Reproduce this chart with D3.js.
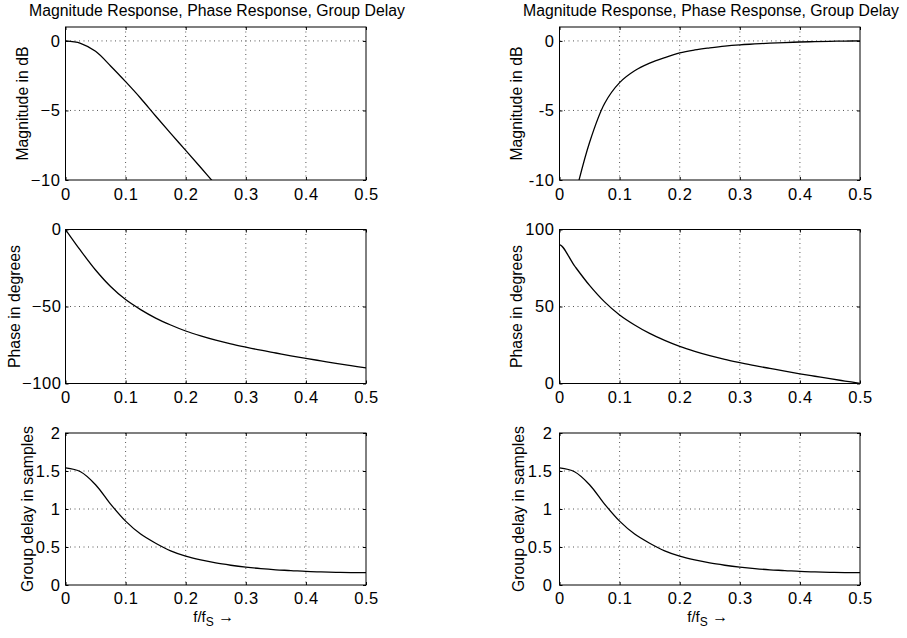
<!DOCTYPE html>
<html>
<head>
<meta charset="utf-8">
<script src="https://cdn.jsdelivr.net/npm/d3@7"></script>
<style>
  html, body { margin: 0; padding: 0; background: #fff; }
  svg { display: block; font-family: "Liberation Sans", Arial, Helvetica, sans-serif; }
</style>
</head>
<body>
<svg id="fig" width="907" height="638"></svg>
<script>
// Normalised frequency grid f/fS
const freq = [0, 0.025, 0.05, 0.075, 0.1, 0.125, 0.15, 0.175, 0.2, 0.225, 0.25,
              0.275, 0.3, 0.325, 0.35, 0.375, 0.4, 0.425, 0.45, 0.475, 0.5];

// Lowpass (left column)
const magLP   = [0, -0.17, -0.75, -1.8, -2.93, -4.12, -5.4, -6.65, -7.87, -9.1, -10.35,
                 null, null, null, null, null, null, null, null, null, null];
const phaseLP = [0, -13.6, -26.3, -37, -45.5, -52, -57.5, -62, -65.9, -69.1, -71.9,
                 -74.3, -76.4, -78.4, -80.2, -82, -83.7, -85.3, -86.9, -88.4, -89.9];
const gdLP    = [1.54, 1.49, 1.32, 1.065, 0.84, 0.67, 0.55, 0.45, 0.38, 0.33, 0.29,
                 0.26, 0.235, 0.215, 0.2, 0.19, 0.178, 0.172, 0.167, 0.164, 0.163];

// Highpass (right column)
const magHP   = [null, -11.3, -7.3, -4.5, -3.0, -2.15, -1.6, -1.2, -0.86, -0.65, -0.5,
                 -0.37, -0.28, -0.22, -0.16, -0.12, -0.08, -0.05, -0.03, -0.01, 0];
const phaseHPdc = 0;   // phase value exactly at f = 0
const phaseHP = [90, 76.4, 63.7, 53, 44.5, 38, 32.5, 28, 24.1, 20.9, 18.1,
                 15.7, 13.6, 11.6, 9.8, 8, 6.3, 4.7, 3.1, 1.6, 0.1];
const gdHP    = [1.54, 1.49, 1.32, 1.065, 0.84, 0.67, 0.55, 0.45, 0.38, 0.33, 0.29,
                 0.26, 0.235, 0.215, 0.2, 0.19, 0.178, 0.172, 0.167, 0.164, 0.163];

// Tick labels
const xTicks     = [0, 0.1, 0.2, 0.3, 0.4, 0.5];
const magTicks   = [-10, -5, 0];
const phLPTicks  = [-100, -50, 0];
const phHPTicks  = [0, 50, 100];
const gdTicks    = [0, 0.5, 1, 1.5, 2];

const titleText = "Magnitude Response, Phase Response, Group Delay";
const yLabels = ["Magnitude in dB", "Phase in degrees", "Group delay in samples"];

// Layout
const cols = [{ x0: 65.5, x1: 366, titleX: 217, minus: "\u2212" },
              { x0: 559.5, x1: 860, titleX: 711, minus: "-" }];
const rows = [{ y0: 27, y1: 180, xpad: 8 }, { y0: 229.5, y1: 383.5, xpad: 8 }, { y0: 433, y1: 585, xpad: 7 }];
const FONT = 15.8;
const TICKFONT = 16.5;

const svg = d3.select("#fig");
const defs = svg.append("defs");

const zip = (xs, ys) => xs.map((x, i) => [x, ys[i]]);

const panels = [
  { c: 0, r: 0, dom: [-10, 1],   ticks: magTicks,  data: zip(freq, magLP),   labOff: 38, pad: 5 },
  { c: 0, r: 1, dom: [-100, 0],  ticks: phLPTicks, data: zip(freq, phaseLP), labOff: 46, pad: 4 },
  { c: 0, r: 2, dom: [0, 2],     ticks: gdTicks,   data: zip(freq, gdLP),    labOff: 33, pad: 5 },
  { c: 1, r: 0, dom: [-10, 1],   ticks: magTicks,  data: zip(freq, magHP),   labOff: 38, pad: 5 },
  { c: 1, r: 1, dom: [0, 100],   ticks: phHPTicks, data: [[0, phaseHPdc]].concat(zip(freq, phaseHP)), labOff: 38, pad: 5 },
  { c: 1, r: 2, dom: [0, 2],     ticks: gdTicks,   data: zip(freq, gdHP),    labOff: 36, pad: 7 }
];

panels.forEach((p, i) => {
  const col = cols[p.c], row = rows[p.r];
  const x = d3.scaleLinear().domain([0, 0.5]).range([col.x0, col.x1]);
  const y = d3.scaleLinear().domain(p.dom).range([row.y1, row.y0]);
  const g = svg.append("g");

  // dotted grid
  const grid = g.append("g").attr("stroke", "#555").attr("stroke-width", 1)
    .attr("stroke-dasharray", "1 3.5").attr("fill", "none");
  xTicks.filter(t => t > 0 && t < 0.5).forEach(t => {
    grid.append("line").attr("x1", x(t)).attr("x2", x(t)).attr("y1", row.y0).attr("y2", row.y1);
  });
  p.ticks.filter(t => t > p.dom[0] && t < p.dom[1]).forEach(t => {
    grid.append("line").attr("x1", col.x0).attr("x2", col.x1).attr("y1", y(t)).attr("y2", y(t));
  });

  // axes with inward ticks on all four sides
  const fmtY = d => d < 0 ? col.minus + Math.abs(d) : String(d);
  g.append("g").attr("transform", `translate(0,${row.y1})`)
    .call(d3.axisBottom(x).tickValues(xTicks).tickSize(-3).tickPadding(row.xpad).tickFormat(d => String(d)));
  g.append("g").attr("transform", `translate(0,${row.y0})`)
    .call(d3.axisTop(x).tickValues(xTicks).tickSize(-3).tickFormat(""));
  g.append("g").attr("transform", `translate(${col.x0},0)`)
    .call(d3.axisLeft(y).tickValues(p.ticks).tickSize(-3).tickPadding(p.pad).tickFormat(fmtY));
  g.append("g").attr("transform", `translate(${col.x1},0)`)
    .call(d3.axisRight(y).tickValues(p.ticks).tickSize(-3).tickFormat(""));
  g.selectAll(".domain").remove();
  g.selectAll(".tick line").attr("stroke", "#000");
  g.selectAll(".tick text").attr("fill", "#000").style("font-size", TICKFONT + "px")
    .style("letter-spacing", "0.6px")
    .style("font-family", "'Liberation Sans', Arial, Helvetica, sans-serif");

  // clipped curve
  const clipId = "clip" + i;
  defs.append("clipPath").attr("id", clipId).append("rect")
    .attr("x", col.x0).attr("y", row.y0).attr("width", col.x1 - col.x0).attr("height", row.y1 - row.y0);
  const line = d3.line()
    .defined(d => d[1] !== null)
    .x(d => x(d[0])).y(d => y(d[1]))
    .curve(d3.curveCatmullRom.alpha(0.5));
  g.append("path").datum(p.data)
    .attr("clip-path", `url(#${clipId})`)
    .attr("fill", "none").attr("stroke", "#000").attr("stroke-width", 1.3)
    .attr("stroke-linejoin", "round")
    .attr("d", line);

  // box
  g.append("rect").attr("x", col.x0).attr("y", row.y0)
    .attr("width", col.x1 - col.x0).attr("height", row.y1 - row.y0)
    .attr("fill", "none").attr("stroke", "#000").attr("stroke-width", 1);

  // y label
  const cy = (row.y0 + row.y1) / 2;
  g.append("text")
    .attr("transform", `translate(${col.x0 - p.labOff},${cy}) rotate(-90)`)
    .attr("text-anchor", "middle").attr("font-size", FONT).attr("fill", "#000")
    .text(yLabels[p.r]);

  // title over the top row
  if (p.r === 0) {
    g.append("text").attr("x", col.titleX).attr("y", 16)
      .attr("text-anchor", "middle").attr("font-size", FONT).attr("fill", "#000")
      .text(titleText);
  }

  // x label under the bottom row
  if (p.r === 2) {
    const t = g.append("text").attr("x", (col.x0 + col.x1) / 2 - 2).attr("y", 622)
      .attr("text-anchor", "middle").attr("font-size", 15).attr("fill", "#000");
    t.append("tspan").text("f/f");
    t.append("tspan").attr("dy", 4).attr("font-size", 12).text("S");
    t.append("tspan").attr("dy", -4).attr("font-size", 16).text(" \u2192");
  }
});
</script>
</body>
</html>
